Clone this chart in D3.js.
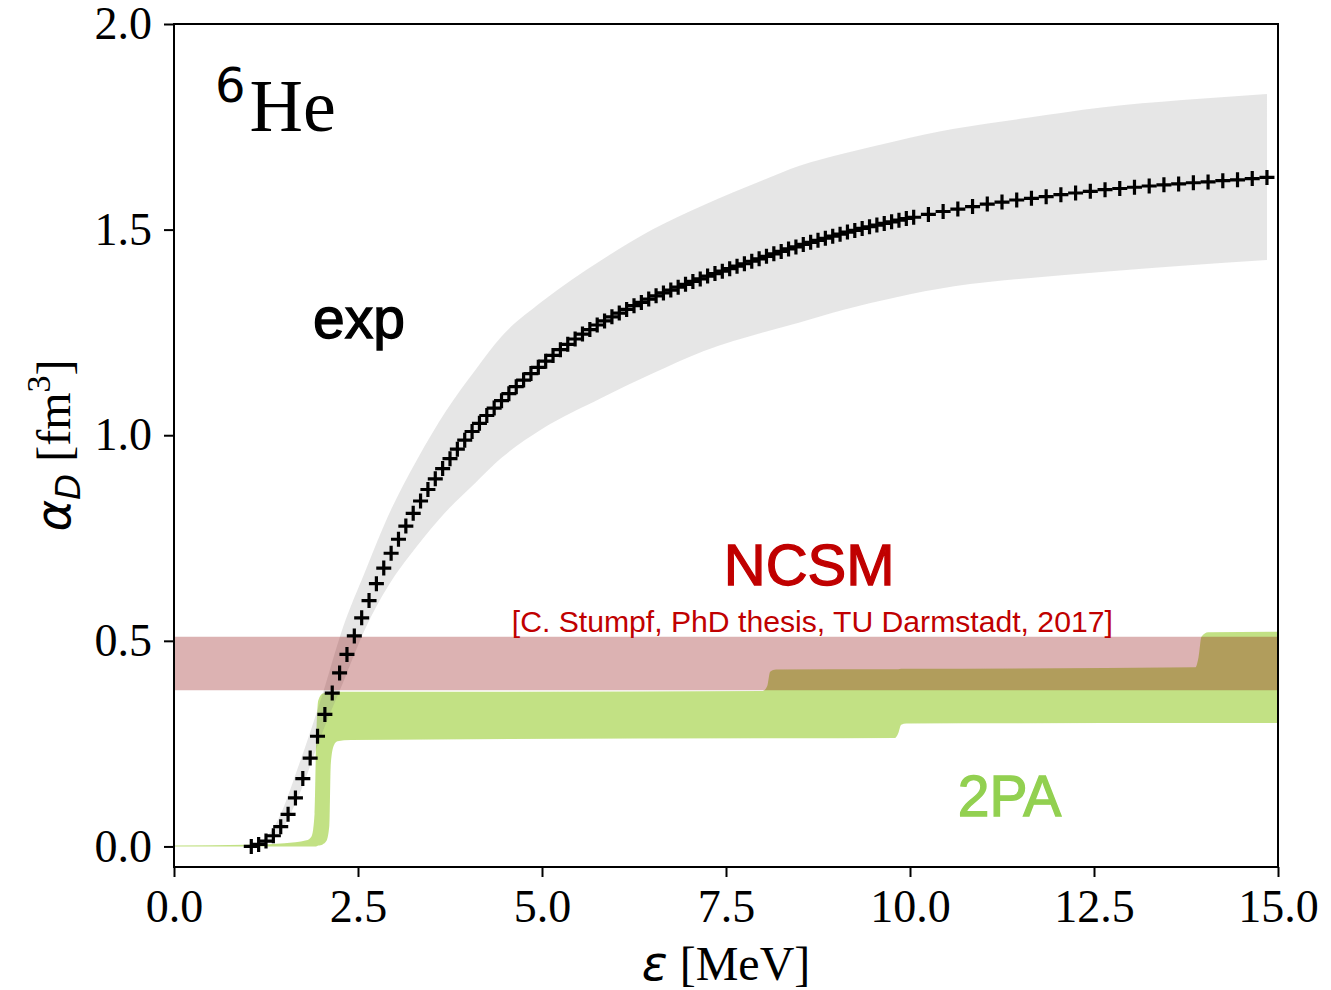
<!DOCTYPE html>
<html>
<head>
<meta charset="utf-8">
<script src="https://cdn.jsdelivr.net/npm/d3@7"></script>
<style>
  html, body { margin: 0; padding: 0; background: #fff; }
  svg { display: block; }
  .tick text { font-family: "Liberation Serif", "Times New Roman", serif; font-size: 46px; fill: #000; }
</style>
</head>
<body>
<svg id="chart" width="1331" height="990"></svg>
<script>
// Photo-absorption derived dipole polarizability of 6He

// Experimental points (energy in MeV, alpha_D in fm^3)
const expEnergy = [
  1.05, 1.15, 1.25, 1.35, 1.45, 1.55, 1.65, 1.75, 1.85, 1.95,
  2.05, 2.15, 2.25, 2.35, 2.45, 2.55, 2.65, 2.75, 2.85, 2.95,
  3.05, 3.15, 3.25, 3.35, 3.45, 3.55, 3.65, 3.75, 3.85, 3.95,
  4.05, 4.15, 4.25, 4.35, 4.45, 4.55, 4.65, 4.75, 4.85, 4.95,
  5.05, 5.15, 5.25, 5.35, 5.45, 5.55, 5.65, 5.75, 5.85, 5.95,
  6.05, 6.15, 6.25, 6.35, 6.45, 6.55, 6.65, 6.75, 6.85, 6.95,
  7.05, 7.15, 7.25, 7.35, 7.45, 7.55, 7.65, 7.75, 7.85, 7.95,
  8.05, 8.15, 8.25, 8.35, 8.45, 8.55, 8.65, 8.75, 8.85, 8.95,
  9.05, 9.15, 9.25, 9.35, 9.45, 9.55, 9.65, 9.75, 9.85, 9.95,
  10.05, 10.25, 10.45, 10.65, 10.85, 11.05, 11.25, 11.45, 11.65, 11.85,
  12.05, 12.25, 12.45, 12.65, 12.85, 13.05, 13.25, 13.45, 13.65, 13.85,
  14.05, 14.25, 14.45, 14.65, 14.85
];
const expAlpha = [
  0.000, 0.005, 0.013, 0.026, 0.048, 0.078, 0.118, 0.165, 0.215, 0.268,
  0.321, 0.373, 0.422, 0.467, 0.512, 0.556, 0.598, 0.639, 0.677, 0.713,
  0.747, 0.779, 0.810, 0.840, 0.868, 0.894, 0.919, 0.943, 0.966, 0.988,
  1.009, 1.029, 1.048, 1.066, 1.084, 1.101, 1.118, 1.134, 1.150, 1.165,
  1.180, 1.194, 1.208, 1.221, 1.234, 1.246, 1.257, 1.268, 1.278, 1.288,
  1.297, 1.306, 1.315, 1.323, 1.331, 1.339, 1.346, 1.353, 1.360, 1.367,
  1.374, 1.380, 1.387, 1.393, 1.399, 1.405, 1.411, 1.417, 1.423, 1.429,
  1.435, 1.441, 1.447, 1.453, 1.458, 1.464, 1.469, 1.474, 1.479, 1.484,
  1.489, 1.494, 1.498, 1.503, 1.507, 1.511, 1.515, 1.519, 1.523, 1.527,
  1.530, 1.537, 1.544, 1.550, 1.556, 1.562, 1.567, 1.572, 1.576, 1.580,
  1.585, 1.589, 1.593, 1.597, 1.600, 1.603, 1.606, 1.609, 1.611, 1.614,
  1.616, 1.619, 1.621, 1.624, 1.627
];

// Experimental uncertainty band
const expBandEnergy = [1.1, 1.4, 1.7, 2.0, 2.3, 2.6, 2.9, 3.3, 3.7, 4.1, 4.45, 5.0,
                       5.8, 6.5, 7.2, 8.0, 8.5, 9.1, 9.8, 10.6, 11.6, 12.6, 13.7, 14.85];
const expBandLow   = [0.000, 0.025, 0.125, 0.270, 0.400, 0.530, 0.630, 0.730, 0.815, 0.885, 0.945, 1.015,
                      1.090, 1.150, 1.205, 1.250, 1.274, 1.305, 1.335, 1.362, 1.382, 1.397, 1.412, 1.426];
const expBandHigh  = [0.000, 0.060, 0.200, 0.360, 0.535, 0.670, 0.800, 0.940, 1.060, 1.160, 1.240, 1.325,
                      1.425, 1.500, 1.560, 1.620, 1.655, 1.685, 1.715, 1.745, 1.772, 1.797, 1.815, 1.830];

// NCSM band (constant in energy)
const ncsmEnergy = [0, 15];
const ncsmLow  = [0.380, 0.380];
const ncsmHigh = [0.510, 0.510];

// 2PA band (running sum, step-like)
const paEnergy = [0, 1.0, 1.5, 1.8, 1.87, 1.91, 1.93, 1.96, 2.02, 2.07, 2.11, 2.13, 2.17, 2.22, 2.4,
                  8.0, 8.06, 8.1, 8.18, 9.8, 9.84, 9.88, 9.95, 13.88, 13.92, 13.96, 14.05, 15.0];
const paLow  = [0, 0, 0, 0, 0, 0, 0, 0.002, 0.005, 0.013, 0.05, 0.2, 0.245, 0.256, 0.259,
                0.263, 0.263, 0.263, 0.263, 0.264, 0.275, 0.296, 0.299, 0.300, 0.300, 0.300, 0.300, 0.300];
const paHigh = [0.002, 0.004, 0.008, 0.015, 0.025, 0.08, 0.25, 0.355, 0.372, 0.374, 0.375, 0.375, 0.375, 0.376, 0.376,
                0.378, 0.39, 0.425, 0.430, 0.431, 0.431, 0.432, 0.432, 0.436, 0.46, 0.51, 0.521, 0.522];

const xTicks = [0, 2.5, 5, 7.5, 10, 12.5, 15];
const yTicks = [0, 0.5, 1.0, 1.5, 2.0];

const svg = d3.select("#chart");
const mLeft = 174, mRight = 1278, mTop = 24, mBottom = 867;

const x = d3.scaleLinear().domain([0, 15]).range([mLeft, mRight]);
const y = d3.scaleLinear().domain([-0.05, 2.0]).range([mBottom, mTop]);

const plot = svg.append("g");
plot.append("clipPath").attr("id", "clip")
  .append("rect").attr("x", mLeft).attr("y", mTop).attr("width", mRight - mLeft).attr("height", mBottom - mTop);
const g = plot.append("g").attr("clip-path", "url(#clip)");

function bandArea(xs, lo, hi) {
  return d3.area()
    .x((d, i) => x(xs[i]))
    .y0((d, i) => y(lo[i]))
    .y1((d, i) => y(hi[i]))
    .curve(d3.curveMonotoneX)(xs);
}

// 2PA
g.append("path").attr("d", bandArea(paEnergy, paLow, paHigh))
  .attr("fill", "yellowgreen").attr("fill-opacity", 0.6);
// experimental band
g.append("path").attr("d", bandArea(expBandEnergy, expBandLow, expBandHigh))
  .attr("fill", "gray").attr("fill-opacity", 0.2);
// NCSM
g.append("path").attr("d", bandArea(ncsmEnergy, ncsmLow, ncsmHigh))
  .attr("fill", "darkred").attr("fill-opacity", 0.3);

// experimental points as plus markers
const arm = 7.5;
g.append("g").selectAll("path")
  .data(expEnergy)
  .join("path")
  .attr("transform", (d, i) => `translate(${x(d)},${y(expAlpha[i])})`)
  .attr("d", `M${-arm},0H${arm}M0,${-arm}V${arm}`)
  .attr("stroke", "#000").attr("stroke-width", 3.2).attr("fill", "none");

// axes
const fmt = d3.format(".1f");
const xAxis = svg.append("g").attr("transform", `translate(0,${mBottom})`)
  .call(d3.axisBottom(x).tickValues(xTicks).tickFormat(fmt).tickSize(10).tickPadding(12));
const yAxis = svg.append("g").attr("transform", `translate(${mLeft},0)`)
  .call(d3.axisLeft(y).tickValues(yTicks).tickFormat(fmt).tickSize(10).tickPadding(12));
[xAxis, yAxis].forEach(a => {
  a.select(".domain").remove();
  a.selectAll(".tick line").attr("stroke", "#000").attr("stroke-width", 2);
});

// frame
svg.append("rect").attr("x", mLeft).attr("y", mTop).attr("width", mRight - mLeft).attr("height", mBottom - mTop)
  .attr("fill", "none").attr("stroke", "#000").attr("stroke-width", 2);

// axis labels
const xl = svg.append("text").attr("x", (mLeft + mRight) / 2).attr("y", 980)
  .attr("text-anchor", "middle").attr("font-size", 48)
  .attr("font-family", "'Liberation Serif', 'Times New Roman', serif");
xl.append("tspan").attr("font-family", "'DejaVu Sans', sans-serif").attr("font-style", "italic").text("ε");
xl.append("tspan").text(" [MeV]");

const yl = svg.append("text")
  .attr("transform", `translate(70,${(mTop + mBottom) / 2}) rotate(-90)`)
  .attr("text-anchor", "middle").attr("font-size", 48)
  .attr("font-family", "'Liberation Serif', 'Times New Roman', serif");
yl.append("tspan").attr("font-family", "'DejaVu Sans', sans-serif").attr("font-style", "italic").text("α");
yl.append("tspan").attr("font-family", "'DejaVu Sans', sans-serif").attr("font-style", "italic")
  .attr("font-size", 34).attr("dy", 10).text("D");
yl.append("tspan").attr("dy", -10).text(" [fm");
yl.append("tspan").attr("font-size", 34).attr("dy", -20).text("3");
yl.append("tspan").attr("dy", 20).text("]");

// nucleus label
const nuc = svg.append("text").attr("x", x(0.557)).attr("y", y(1.739))
  .attr("font-family", "'Liberation Serif', 'Times New Roman', serif").attr("font-size", 74);
nuc.append("tspan").attr("font-family", "'DejaVu Sans', sans-serif").attr("font-size", 48)
  .attr("dy", -29).text("6");
nuc.append("tspan").attr("dy", 29).attr("dx", 4).text("He");

// annotations
const sans = "'Liberation Sans', Arial, sans-serif";
function label(xv, yv, size, color, txt) {
  return svg.append("text").attr("x", x(xv)).attr("y", y(yv))
    .attr("font-family", sans).attr("font-size", size)
    .attr("fill", color).attr("stroke", color).attr("stroke-width", 1.3)
    .attr("paint-order", "stroke").text(txt);
}
label(1.89, 1.236, 57, "#000", "exp");
label(7.47, 0.636, 58, "#c00000", "NCSM");
label(10.65, 0.074, 57, "#92d050", "2PA");
svg.append("text").attr("x", x(4.59)).attr("y", y(0.521))
  .attr("font-family", sans).attr("font-size", 29).attr("fill", "#c00000")
  .attr("textLength", 601).attr("lengthAdjust", "spacingAndGlyphs")
  .text("[C. Stumpf, PhD thesis, TU Darmstadt, 2017]");
</script>
</body>
</html>
